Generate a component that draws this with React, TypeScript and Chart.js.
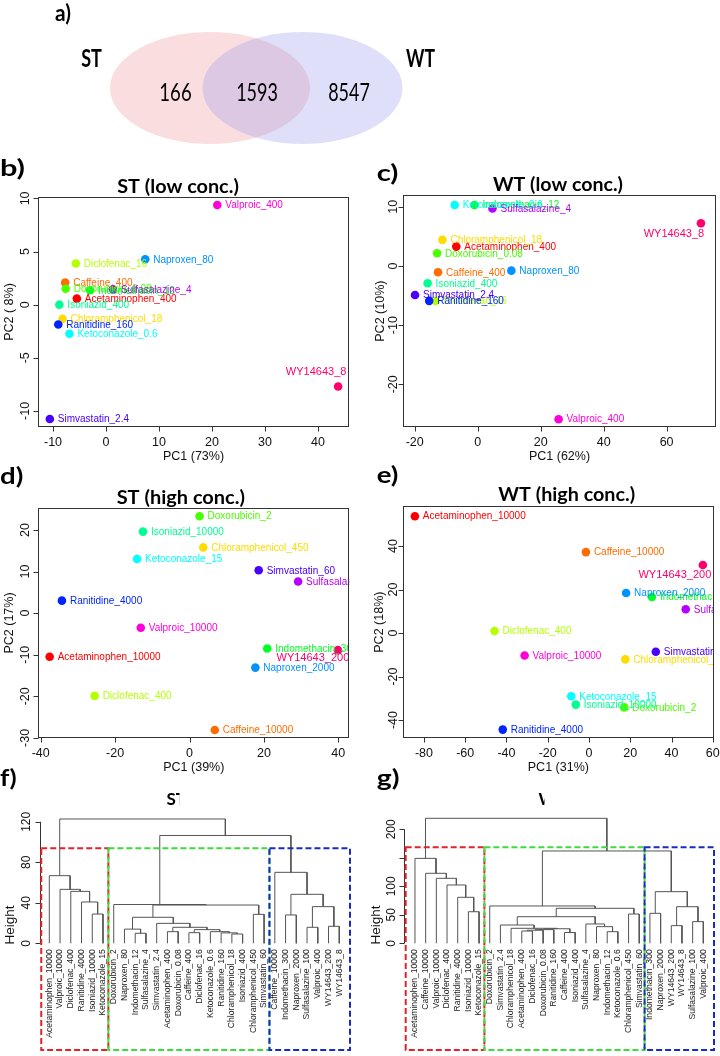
import React, { useEffect, useRef } from "react";
import { Chart, registerables } from "chart.js";
Chart.register(...registerables);

// ---------------- DATA ----------------
const drugs = ["Acetaminophen", "Caffeine", "Chloramphenicol", "Diclofenac", "Doxorubicin", "Indomethacin", "Isoniazid", "Ketoconazole", "Naproxen", "Ranitidine", "Simvastatin", "Sulfasalazine", "Valproic", "WY14643"];
const drugColors = ["#FF0000", "#FF6D00", "#FFDB00", "#B6FF00", "#49FF00", "#00FF24", "#00FF92", "#00FFFF", "#0092FF", "#0024FF", "#4900FF", "#B600FF", "#FF00DB", "#FF006D"];

// Venn (a)
const vennSets = ["ST", "WT"];
const vennCounts = [166, 1593, 8547]; // ST only, both, WT only

// b) ST (low conc.)
const stLowLabels = ["Acetaminophen_400", "Caffeine_400", "Chloramphenicol_18", "Diclofenac_16", "Doxorubicin_0.08", "Indomethacin_12", "Isoniazid_400", "Ketoconazole_0.6", "Naproxen_80", "Ranitidine_160", "Simvastatin_2.4", "Sulfasalazine_4", "Valproic_400", "WY14643_8"];
const stLowPC1 = [-5.5, -7.7, -8.2, -5.7, -7.6, -3.0, -8.8, -6.9, 7.4, -9.0, -10.6, 1.3, 21.0, 43.8];
const stLowPC2 = [0.57, 2.07, -1.32, 3.87, 1.5, 1.35, 0.0, -2.74, 4.27, -1.86, -10.76, 1.44, 9.37, -7.7];

// c) WT (low conc.)
const wtLowLabels = stLowLabels;
const wtLowPC1 = [-6.8, -12.6, -11.2, -13.4, -12.9, -1.0, -15.9, -7.3, 10.7, -15.4, -19.9, 4.7, 25.7, 70.9];
const wtLowPC2 = [3.26, -1.07, 4.4, -5.9, 2.14, 10.3, -2.93, 10.3, -0.8, -5.9, -4.9, 9.7, -25.9, 7.2];

// d) ST (high conc.)
const stHighLabels = ["Acetaminophen_10000", "Caffeine_10000", "Chloramphenicol_450", "Diclofenac_400", "Doxorubicin_2", "Indomethacin_300", "Isoniazid_10000", "Ketoconazole_15", "Naproxen_2000", "Ranitidine_4000", "Simvastatin_60", "Sulfasalazine_100", "Valproic_10000", "WY14643_200"];
const stHighPC1 = [-37.6, 6.8, 3.7, -25.5, 2.7, 20.9, -12.5, -14.1, 17.7, -34.3, 18.6, 29.2, -13.1, 39.9];
const stHighPC2 = [-10.5, -28.1, 15.8, -19.9, 23.3, -8.5, 19.6, 13.0, -13.1, 3.0, 10.3, 7.6, -3.5, -8.9];

// e) WT (high conc.)
const wtHighLabels = stHighLabels;
const wtHighPC1 = [-84.4, -1.5, 17.6, -45.8, 17.1, 30.5, -6.4, -8.6, 18.0, -41.8, 32.4, 46.9, -31.2, 55.2];
const wtHighPC2 = [53.7, 37.2, -12.1, 0.9, -34.2, 16.6, -32.9, -29.1, 18.4, -44.4, -8.6, 10.9, -10.3, 31.3];

// f) ST dendrogram (leaf order, hclust-style merges, heights)
const stLeaves = ["Acetaminophen_10000", "Valproic_10000", "Diclofenac_400", "Ranitidine_4000", "Isoniazid_10000", "Ketoconazole_15", "Doxorubicin_2", "Naproxen_80", "Indomethacin_12", "Sulfasalazine_4", "Simvastatin_2.4", "Acetaminophen_400", "Doxorubicin_0.08", "Caffeine_400", "Diclofenac_16", "Ketoconazole_0.6", "Ranitidine_160", "Chloramphenicol_18", "Isoniazid_400", "Chloramphenicol_450", "Simvastatin_60", "Caffeine_10000", "Indomethacin_300", "Naproxen_2000", "Sulfasalazine_100", "Valproic_400", "WY14643_200", "WY14643_8"];
const stMerge = [[-5, -6], [-4, 1], [-3, 2], [-2, 3], [-1, 4], [-9, -10], [-8, 6], [-12, -13], [-18, -19], [-17, 9], [-16, 10], [-14, -15], [12, 11], [8, 13], [-11, 14], [7, 15], [-20, -21], [16, 17], [-7, 18], [-25, -26], [-27, -28], [20, 21], [-23, -24], [23, 22], [-22, 24], [19, 25], [5, 26]];
const stHeights = [28.9, 40.8, 51.3, 53.3, 66.8, 9.9, 14.0, 11.5, 9.2, 10.3, 11.5, 10.5, 13.5, 15.8, 19.7, 25.7, 28.6, 37.8, 38.3, 15.8, 16.8, 36.2, 28.0, 48.4, 70.1, 106.5, 122.8];
const stClusterSizes = [6, 15, 7];
const stCutHeight = 93.8;
const stYTicks = [0, 40, 80, 120];

// g) WT dendrogram
const wtLeaves = ["Acetaminophen_10000", "Caffeine_10000", "Valproic_10000", "Diclofenac_400", "Ranitidine_4000", "Isoniazid_10000", "Ketoconazole_15", "Doxorubicin_2", "Simvastatin_2.4", "Chloramphenicol_18", "Acetaminophen_400", "Diclofenac_16", "Doxorubicin_0.08", "Ranitidine_160", "Caffeine_400", "Isoniazid_400", "Sulfasalazine_4", "Naproxen_80", "Indomethacin_12", "Ketoconazole_0.6", "Chloramphenicol_450", "Simvastatin_60", "Indomethacin_300", "Naproxen_2000", "WY14643_200", "WY14643_8", "Sulfasalazine_100", "Valproic_400"];
const wtMerge = [[-6, -7], [-5, 1], [-4, 2], [-3, 3], [-2, 4], [-1, 5], [-11, -12], [7, -13], [8, -14], [-15, -16], [9, 10], [-10, 11], [-9, 12], [-19, -20], [-18, 14], [-17, 15], [13, 16], [-21, -22], [17, 18], [-8, 19], [-23, -24], [-25, -26], [-27, -28], [22, 23], [21, 24], [20, 25], [6, 26]];
const wtHeights = [55.4, 80.7, 102.3, 114.0, 122.8, 149.0, 21.5, 23.0, 24.0, 19.0, 25.5, 26.3, 32.1, 20.4, 29.2, 33.9, 46.7, 51.4, 61.4, 65.5, 52.6, 31.0, 38.0, 64.2, 90.6, 162.0, 219.3];
const wtClusterSizes = [7, 15, 6];
const wtCutHeight = 168.4;
const wtYTicks = [0, 50, 100, 150, 200];
const wtYTickLabels = ["0", "50", "100", "", "200"];

// ---------------- STYLE ----------------
const R_FONT = '"Liberation Sans", Arial, sans-serif';
const CAL_FONT = 'Lato, "Open Sans", sans-serif';
const AXIS = "#333333";
const TEXT = "#111111";
const BOX_COLORS = ["#E3222B", "#3DDC3D", "#1A2BC4"];

function drugColor(label: string) {
  const name = label.split("_")[0];
  return drugColors[drugs.indexOf(name)];
}

// draw text squeezed/stretched horizontally to a given width (Calibri-like look)
function fitText(ctx: any, text: string, x: number, y: number, font: string, width: number, align: string) {
  ctx.save();
  ctx.font = font;
  const w = ctx.measureText(text).width || 1;
  ctx.translate(x, y);
  ctx.scale(width / w, 1);
  ctx.textAlign = align;
  ctx.textBaseline = "middle";
  ctx.fillText(text, 0, 0);
  ctx.restore();
}

function padFor(canvas: any, area: any) {
  return {
    left: area.left - canvas.left,
    top: area.top - canvas.top,
    right: canvas.left + canvas.width - area.right,
    bottom: canvas.top + canvas.height - area.bottom,
  };
}

const baseOptions = {
  responsive: false,
  animation: false,
  events: [],
  plugins: { legend: { display: false }, tooltip: { enabled: false }, title: { display: false } },
};

// ---------------- VENN ----------------
const vennSpec = {
  canvas: { left: 0, top: 0, width: 720, height: 152 },
  area: { left: 0, top: 0, right: 720, bottom: 152 },
};
function vennConfig() {
  const s = vennSpec;
  const regionX = [-0.805, 0.01, 0.93];
  const regionW = [32.3, 41.7, 41.7];
  const ellipseX = [-0.46, 0.465];
  const fills = ["rgba(240,145,150,0.3)", "rgba(148,148,235,0.3)"];
  return {
    type: "scatter",
    data: { datasets: [{ data: regionX.map((x) => ({ x, y: -0.08 })), pointRadius: 0 }] },
    options: {
      ...baseOptions,
      layout: { padding: padFor(s.canvas, s.area) },
      scales: {
        x: { type: "linear", display: false, min: -2.56, max: 4.64 },
        y: { type: "linear", display: false, min: -(152 - 88) / 56, max: 88 / 56 },
      },
    },
    plugins: [
      {
        id: "venn",
        beforeDatasetsDraw(chart: any) {
          const { ctx, scales } = chart;
          const xs = scales.x, ys = scales.y;
          ellipseX.forEach((cxv, i) => {
            const cx = xs.getPixelForValue(cxv), cy = ys.getPixelForValue(0);
            const rx = xs.getPixelForValue(cxv + 1) - cx;
            const ry = cy - ys.getPixelForValue(1);
            ctx.save();
            ctx.beginPath();
            ctx.ellipse(cx, cy, rx, ry, 0, 0, Math.PI * 2);
            ctx.fillStyle = fills[i];
            ctx.fill();
            ctx.restore();
          });
        },
        afterDatasetsDraw(chart: any) {
          const { ctx, scales } = chart;
          const xs = scales.x, ys = scales.y;
          ctx.save();
          ctx.fillStyle = "#000";
          vennCounts.forEach((c, i) =>
            fitText(ctx, String(c), xs.getPixelForValue(regionX[i]), ys.getPixelForValue(-0.08), `25px ${CAL_FONT}`, regionW[i], "center")
          );
          vennSets.forEach((t, i) =>
            fitText(ctx, t, xs.getPixelForValue(i === 0 ? -1.645 : 1.645), ys.getPixelForValue(0.52), `bold 25px ${CAL_FONT}`, i === 0 ? 20.7 : 29, "center")
          );
          fitText(ctx, "a)", 55, 14, `bold 22px ${CAL_FONT}`, 16, "left");
          ctx.restore();
        },
      },
    ],
  };
}

// ---------------- PCA PANELS ----------------
const pcaPanels = [
  {
    letter: "b)", title: "ST (low conc.)", xTitle: "PC1 (73%)", yTitle: "PC2 ( 8%)",
    labels: stLowLabels, pc1: stLowPC1, pc2: stLowPC2,
    xTicks: [-10, 0, 10, 20, 30, 40], yTicks: [-10, -5, 0, 5, 10],
    xRange: [-12.83, 45.85], yRange: [-11.51, 10.13],
    canvas: { left: 0, top: 140, width: 360, height: 335 },
    area: { left: 38, top: 197, right: 349, bottom: 427 },
    letterPos: [0, 168.5], letterW: 25, titlePos: [178, 186.5], titleW: 121.7, yTickOff: 12, yTitleOff: 28,
    placement: { WY14643_8: { dx: -22, dy: -15, size: 11 } },
  },
  {
    letter: "c)", title: "WT (low conc.)", xTitle: "PC1 (62%)", yTitle: "PC2 (10%)",
    labels: wtLowLabels, pc1: wtLowPC1, pc2: wtLowPC2,
    xTicks: [-20, 0, 20, 40, 60], yTicks: [-20, -10, 0, 10],
    xRange: [-23.62, 75.59], yRange: [-27.26, 11.98],
    canvas: { left: 360, top: 140, width: 360, height: 335 },
    area: { left: 403.3, top: 195, right: 718.3, bottom: 427.3 },
    letterPos: [376.7, 174], letterW: 21.7, titlePos: [558, 185], titleW: 130, yTickOff: 10, yTitleOff: 22.7,
    placement: { WY14643_8: { dx: -27, dy: 11, size: 11 } },
  },
  {
    letter: "d)", title: "ST (high conc.)", xTitle: "PC1 (39%)", yTitle: "PC2 (17%)",
    labels: stHighLabels, pc1: stHighPC1, pc2: stHighPC2,
    xTicks: [-40, -20, 0, 20, 40], yTicks: [-30, -20, -10, 0, 10, 20],
    xRange: [-40.65, 42.96], yRange: [-30.1, 25.35],
    canvas: { left: 0, top: 455, width: 360, height: 335 },
    area: { left: 38.3, top: 507.7, right: 349.3, bottom: 738.3 },
    letterPos: [0, 476.7], letterW: 23.3, titlePos: [180.8, 498], titleW: 128.3, yTickOff: 13, yTitleOff: 28.3,
    placement: { WY14643_200: { dx: -25, dy: 8.3, size: 11 } },
  },
  {
    letter: "e)", title: "WT (high conc.)", xTitle: "PC1 (31%)", yTitle: "PC2 (18%)",
    labels: wtHighLabels, pc1: wtHighPC1, pc2: wtHighPC2,
    xTicks: [-80, -60, -40, -20, 0, 20, 40, 60], yTicks: [-40, -20, 0, 20, 40],
    xRange: [-90.3, 60.6], yRange: [-48.4, 58.4],
    canvas: { left: 360, top: 455, width: 360, height: 335 },
    area: { left: 402.7, top: 506, right: 714, bottom: 738.3 },
    letterPos: [376.7, 476], letterW: 21.7, titlePos: [566.7, 495], titleW: 136.7, yTickOff: 9.5, yTitleOff: 22.7,
    placement: { WY14643_200: { dx: -28, dy: 10.3, size: 11 } },
  },
];

function pcaConfig(p: any) {
  const ox = p.canvas.left, oy = p.canvas.top;
  return {
    type: "scatter",
    data: {
      datasets: [{
        data: p.labels.map((l: string, i: number) => ({ x: p.pc1[i], y: p.pc2[i] })),
        pointRadius: 4.3,
        pointHoverRadius: 4.3,
        pointBorderWidth: 0,
        pointBackgroundColor: p.labels.map(drugColor),
        clip: false,
      }],
    },
    options: {
      ...baseOptions,
      layout: { padding: padFor(p.canvas, p.area) },
      scales: {
        x: { type: "linear", display: false, min: p.xRange[0], max: p.xRange[1] },
        y: { type: "linear", display: false, min: p.yRange[0], max: p.yRange[1] },
      },
    },
    plugins: [
      {
        id: "pcaDecor",
        afterDatasetsDraw(chart: any) {
          const { ctx, chartArea: a, scales } = chart;
          const xs = scales.x, ys = scales.y;
          // point labels (clipped to plot box, like R)
          ctx.save();
          ctx.beginPath();
          ctx.rect(a.left, a.top, a.right - a.left, a.bottom - a.top);
          ctx.clip();
          ctx.textBaseline = "middle";
          p.labels.forEach((lab: string, i: number) => {
            const px = xs.getPixelForValue(p.pc1[i]);
            const py = ys.getPixelForValue(p.pc2[i]);
            const pl = p.placement[lab];
            ctx.fillStyle = drugColor(lab);
            if (pl) {
              ctx.font = `${pl.size}px ${R_FONT}`;
              ctx.textAlign = "center";
              ctx.fillText(lab, px + pl.dx, py + pl.dy);
            } else {
              ctx.font = `10px ${R_FONT}`;
              ctx.textAlign = "left";
              ctx.fillText(lab, px + 8, py + 0.5);
            }
          });
          ctx.restore();

          // box, ticks, labels
          ctx.save();
          ctx.strokeStyle = AXIS;
          ctx.lineWidth = 1;
          const L = Math.round(a.left) + 0.5, T = Math.round(a.top) + 0.5;
          const Rr = Math.round(a.right) - 0.5, B = Math.round(a.bottom) - 0.5;
          ctx.strokeRect(L, T, Rr - L, B - T);
          ctx.beginPath();
          p.xTicks.forEach((v: number) => {
            const px = Math.round(xs.getPixelForValue(v)) + 0.5;
            ctx.moveTo(px, B);
            ctx.lineTo(px, B + 5);
          });
          p.yTicks.forEach((v: number) => {
            const py = Math.round(ys.getPixelForValue(v)) + 0.5;
            ctx.moveTo(L, py);
            ctx.lineTo(L - 5, py);
          });
          ctx.stroke();
          ctx.fillStyle = TEXT;
          ctx.font = `12.5px ${R_FONT}`;
          ctx.textAlign = "center";
          ctx.textBaseline = "middle";
          p.xTicks.forEach((v: number) => ctx.fillText(String(v), xs.getPixelForValue(v), a.bottom + 15.5));
          p.yTicks.forEach((v: number) => {
            ctx.save();
            ctx.translate(a.left - p.yTickOff, ys.getPixelForValue(v));
            ctx.rotate(-Math.PI / 2);
            ctx.fillText(String(v), 0, 0);
            ctx.restore();
          });
          ctx.fillText(p.xTitle, (a.left + a.right) / 2, a.bottom + 29.7);
          ctx.save();
          ctx.translate(a.left - p.yTitleOff, (a.top + a.bottom) / 2);
          ctx.rotate(-Math.PI / 2);
          ctx.fillText(p.yTitle, 0, 0);
          ctx.restore();
          // panel letter and title
          ctx.fillStyle = "#000";
          fitText(ctx, p.letter, p.letterPos[0] - ox, p.letterPos[1] - oy, `bold 22px ${CAL_FONT}`, p.letterW, "left");
          fitText(ctx, p.title, p.titlePos[0] - ox, p.titlePos[1] - oy, `bold 19px ${CAL_FONT}`, p.titleW, "center");
          ctx.restore();
        },
      },
    ],
  };
}

// ---------------- DENDROGRAMS ----------------
function dendroPoints(merge: number[][], heights: number[]) {
  const cx: number[] = [];
  const pts: any[] = [];
  const pos = (k: number) => (k < 0 ? { x: -k, y: 0 } : { x: cx[k - 1], y: heights[k - 1] });
  merge.forEach(([a, b], i) => {
    const A = pos(a), B = pos(b), h = heights[i];
    cx[i] = (A.x + B.x) / 2;
    pts.push({ x: A.x, y: A.y }, { x: A.x, y: h }, { x: B.x, y: h }, { x: B.x, y: B.y }, { x: B.x, y: null });
  });
  return pts;
}

const dendroPanels = [
  {
    letter: "f)", letterW: 16.7, title: "ST", titleStart: 166.5, titleClip: 179.5,
    leaves: stLeaves, merge: stMerge, heights: stHeights,
    sizes: stClusterSizes, cut: stCutHeight, yTicks: stYTicks, yTickLabels: stYTicks.map(String),
    xRange: [0.134, 29.0], yRange: [0, 130],
    canvas: { left: 0, top: 765, width: 360, height: 291 },
    area: { left: 40, top: 811.7, right: 350, bottom: 943.3 },
    letterPos: [0, 779], yTickOff: 13, yTitleX: 10, boxLeft: 0.25,
  },
  {
    letter: "g)", letterW: 22.7, title: "WT", titleStart: 538.5, titleClip: 544.5,
    leaves: wtLeaves, merge: wtMerge, heights: wtHeights,
    sizes: wtClusterSizes, cut: wtCutHeight, yTicks: wtYTicks, yTickLabels: wtYTickLabels,
    xRange: [0.0, 29.0], yRange: [0, 230],
    canvas: { left: 360, top: 765, width: 360, height: 291 },
    area: { left: 404.3, top: 812.2, right: 714, bottom: 943.3 },
    letterPos: [376.7, 779], yTickOff: 12.6, yTitleX: 376.7, boxLeft: 0.13,
  },
];

function dendroConfig(p: any) {
  const ox = p.canvas.left, oy = p.canvas.top;
  return {
    type: "scatter",
    data: {
      datasets: [{
        data: dendroPoints(p.merge, p.heights),
        showLine: true,
        spanGaps: false,
        pointRadius: 0,
        borderColor: "#555555",
        borderWidth: 1,
        clip: false,
      }],
    },
    options: {
      ...baseOptions,
      layout: { padding: padFor(p.canvas, p.area) },
      scales: {
        x: { type: "linear", display: false, min: p.xRange[0], max: p.xRange[1] },
        y: { type: "linear", display: false, min: p.yRange[0], max: p.yRange[1] },
      },
    },
    plugins: [
      {
        id: "dendroDecor",
        afterDatasetsDraw(chart: any) {
          const { ctx, chartArea: a, scales } = chart;
          const xs = scales.x, ys = scales.y;
          ctx.save();
          // y axis (R style: from first to last tick)
          ctx.strokeStyle = AXIS;
          ctx.lineWidth = 1;
          const L = Math.round(a.left) + 0.5;
          const t0 = ys.getPixelForValue(p.yTicks[0]);
          const t1 = ys.getPixelForValue(p.yTicks[p.yTicks.length - 1]);
          ctx.beginPath();
          ctx.moveTo(L, t0);
          ctx.lineTo(L, t1);
          p.yTicks.forEach((v: number) => {
            const py = Math.round(ys.getPixelForValue(v)) + 0.5;
            ctx.moveTo(L, py);
            ctx.lineTo(L - 5, py);
          });
          ctx.stroke();
          ctx.fillStyle = TEXT;
          ctx.font = `12px ${R_FONT}`;
          ctx.textAlign = "center";
          ctx.textBaseline = "middle";
          p.yTicks.forEach((v: number, i: number) => {
            ctx.save();
            ctx.translate(a.left - p.yTickOff, ys.getPixelForValue(v));
            ctx.rotate(-Math.PI / 2);
            ctx.fillText(p.yTickLabels[i], 0, 0);
            ctx.restore();
          });
          ctx.save();
          ctx.font = `13.5px ${R_FONT}`;
          ctx.translate(p.yTitleX - ox, 925 - oy);
          ctx.rotate(-Math.PI / 2);
          ctx.fillText("Height", 0, 0);
          ctx.restore();
          // leaf labels
          ctx.font = `8.6px ${R_FONT}`;
          ctx.fillStyle = "#222";
          ctx.textAlign = "right";
          p.leaves.forEach((lab: string, i: number) => {
            ctx.save();
            ctx.translate(xs.getPixelForValue(i + 1), a.bottom + 6);
            ctx.rotate(-Math.PI / 2);
            ctx.fillText(lab, 0, 0);
            ctx.restore();
          });
          // cluster boxes
          const edges: number[] = [p.boxLeft];
          let cum = 0;
          p.sizes.forEach((s: number, i: number) => {
            cum += s;
            edges.push(i === p.sizes.length - 1 ? cum + 1 : cum + 0.5);
          });
          const top = ys.getPixelForValue(p.cut);
          const bottom = 1050 - oy;
          ctx.lineWidth = 2;
          ctx.setLineDash([6, 3]);
          p.sizes.forEach((s: number, i: number) => {
            const x0 = xs.getPixelForValue(edges[i]);
            const x1 = xs.getPixelForValue(edges[i + 1]);
            ctx.strokeStyle = BOX_COLORS[i];
            ctx.strokeRect(x0, top, x1 - x0, bottom - top);
          });
          ctx.setLineDash([]);
          // letter
          ctx.fillStyle = "#000";
          fitText(ctx, p.letter, p.letterPos[0] - ox, p.letterPos[1] - oy, `bold 22px ${CAL_FONT}`, p.letterW, "left");
          // partially hidden title
          ctx.save();
          ctx.beginPath();
          ctx.rect(p.titleStart - ox - 3, 785 - oy, p.titleClip - p.titleStart + 3, 25);
          ctx.clip();
          ctx.font = `bold 17px ${CAL_FONT}`;
          ctx.textAlign = "left";
          ctx.textBaseline = "alphabetic";
          ctx.fillText(p.title, p.titleStart - ox, 804.5 - oy);
          ctx.restore();
          ctx.restore();
        },
      },
    ],
  };
}

// ---------------- COMPONENTS ----------------
function ChartCanvas({ canvas, make }: any) {
  const ref = useRef<HTMLCanvasElement>(null);
  useEffect(() => {
    const chart = new Chart(ref.current as HTMLCanvasElement, make() as any);
    return () => chart.destroy();
  }, []);
  return (
    <canvas
      ref={ref}
      width={canvas.width}
      height={canvas.height}
      style={{ position: "absolute", left: canvas.left, top: canvas.top, width: canvas.width, height: canvas.height }}
    />
  );
}

export default function App() {
  useEffect(() => {
    document.body.style.margin = "0";
  }, []);
  return (
    <div style={{ position: "relative", width: 720, height: 1056, background: "#fff", overflow: "hidden" }}>
      <ChartCanvas canvas={vennSpec.canvas} make={vennConfig} />
      {pcaPanels.map((p, i) => (
        <ChartCanvas key={"pca" + i} canvas={p.canvas} make={() => pcaConfig(p)} />
      ))}
      {dendroPanels.map((p, i) => (
        <ChartCanvas key={"den" + i} canvas={p.canvas} make={() => dendroConfig(p)} />
      ))}
    </div>
  );
}
